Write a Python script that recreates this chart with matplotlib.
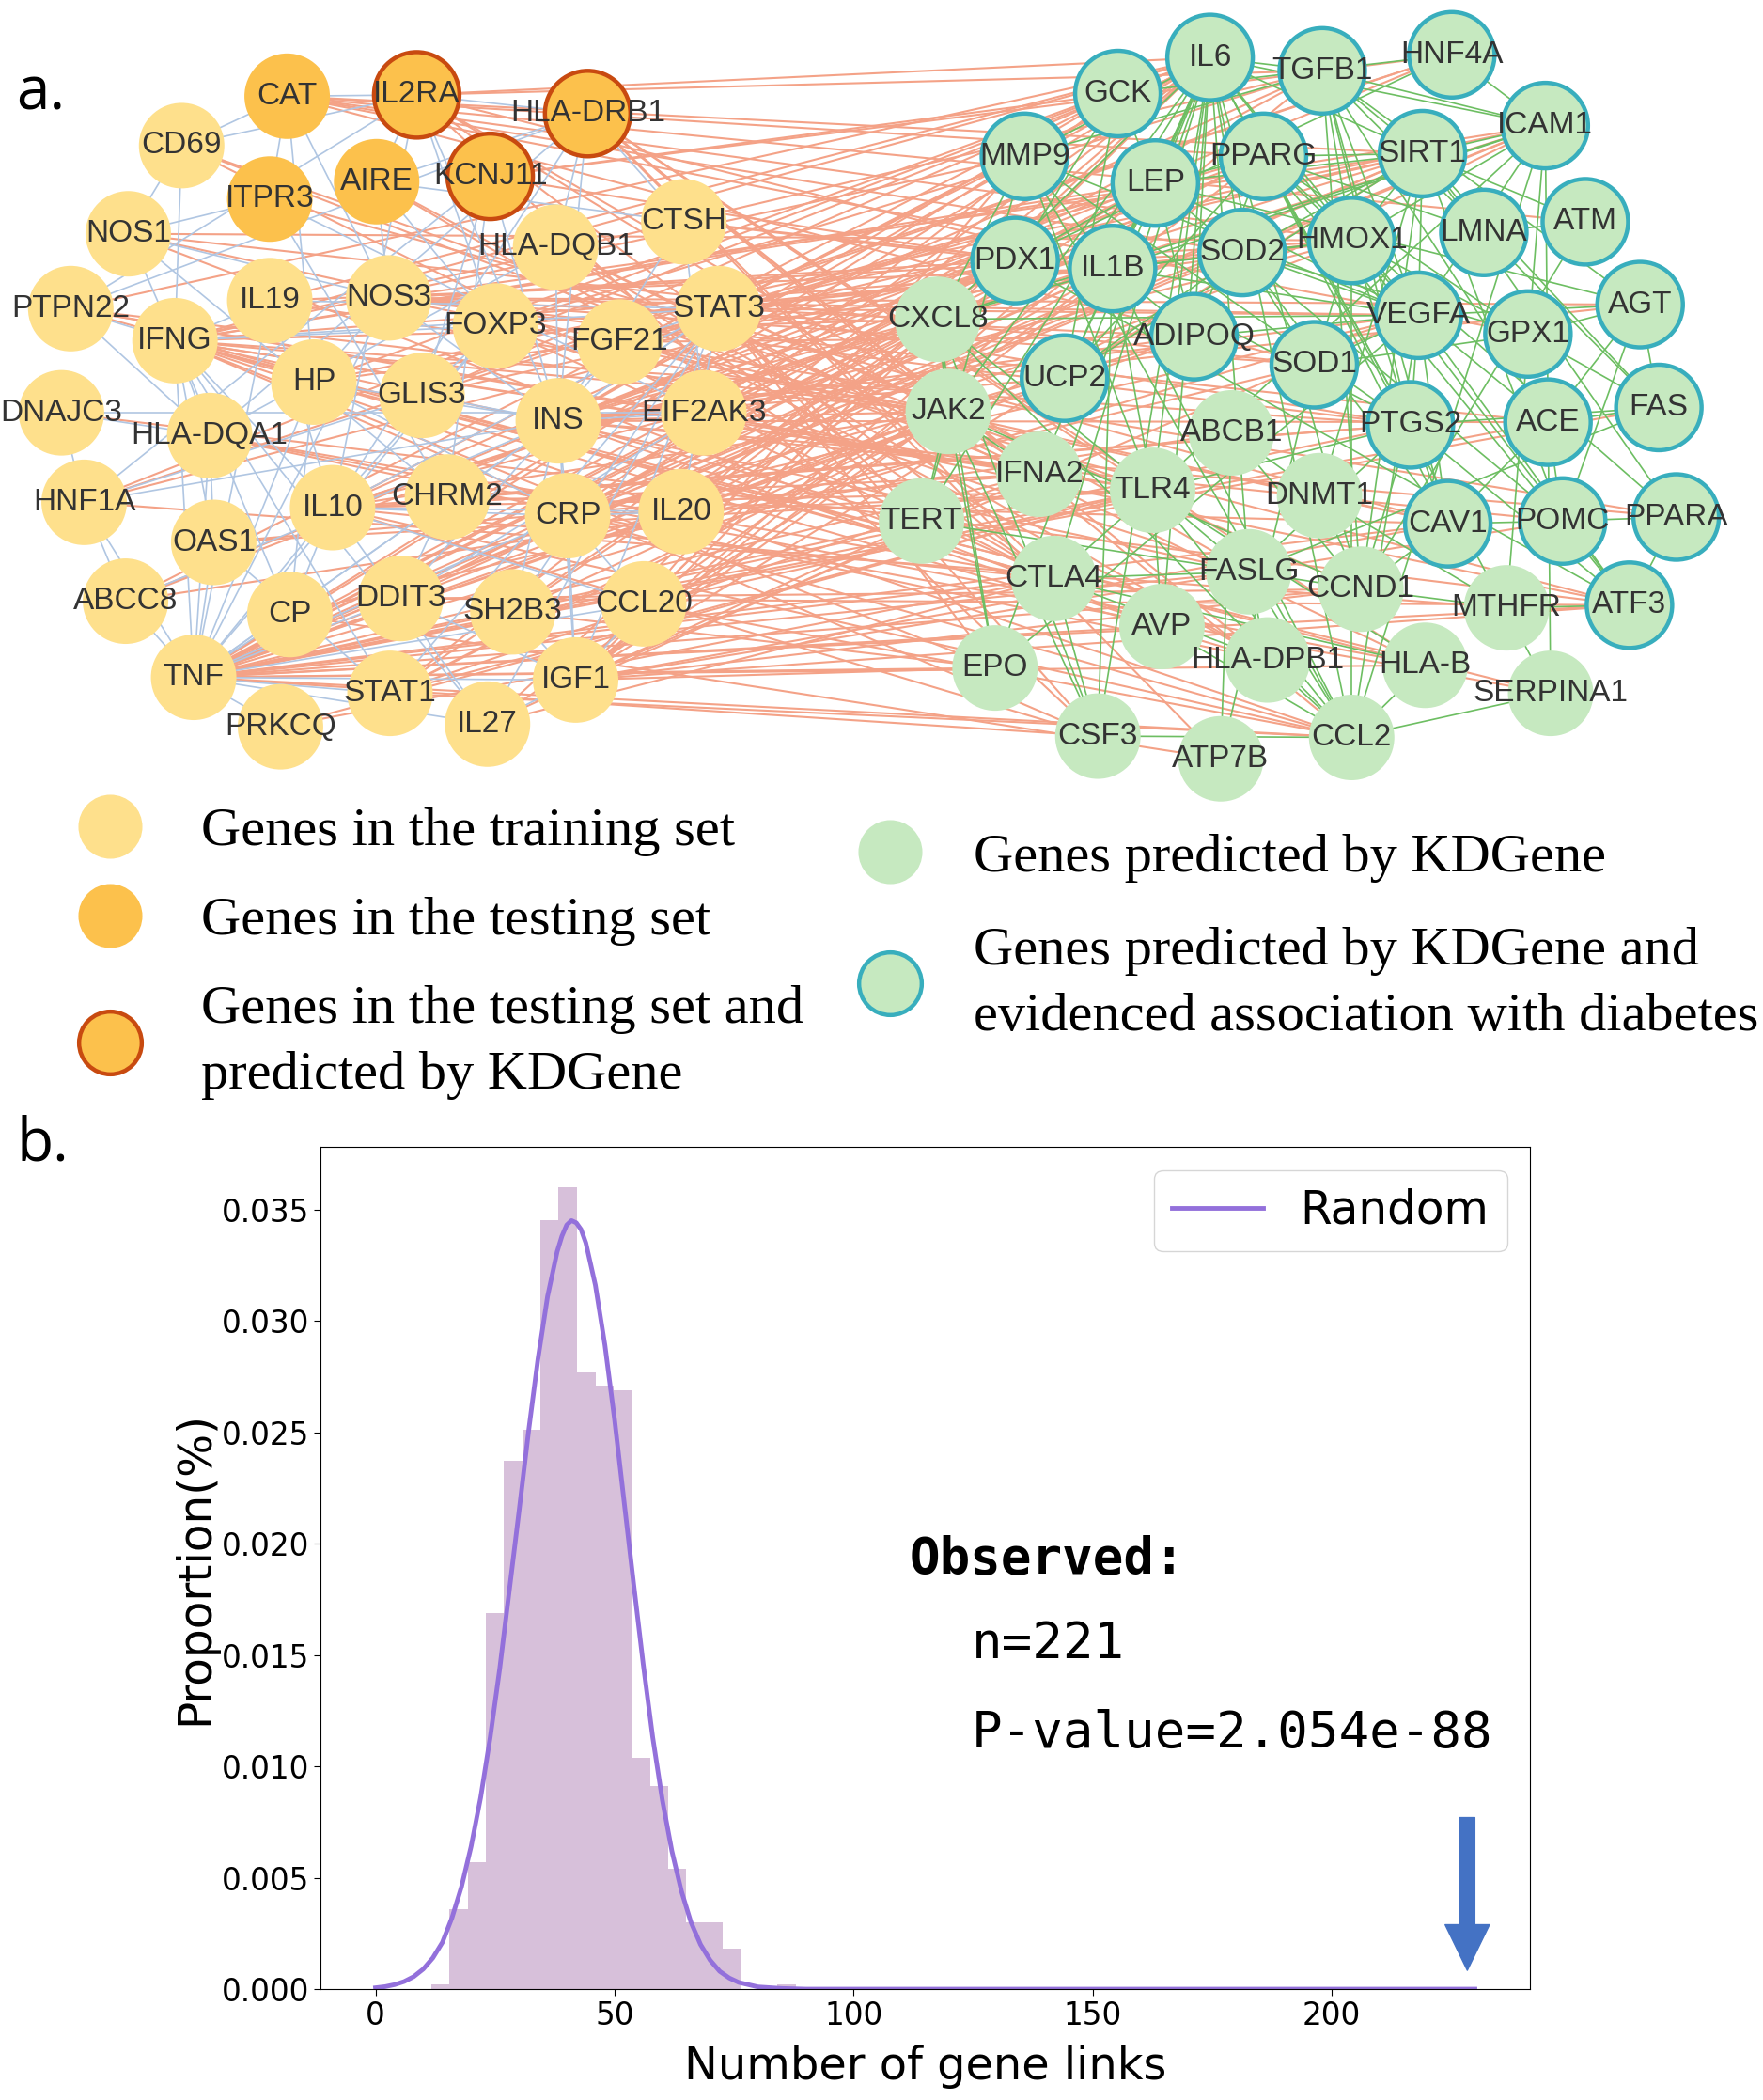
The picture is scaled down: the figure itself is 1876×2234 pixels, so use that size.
import numpy as np
import matplotlib
matplotlib.use("Agg")
import matplotlib.pyplot as plt
from matplotlib.collections import LineCollection
from matplotlib.patches import Circle
from matplotlib.lines import Line2D

# ---------------- panel a: gene network ----------------
# node centres (px of a 1320 px wide view)
left_genes = ["CAT", "IL2RA", "HLA-DRB1", "CD69", "ITPR3", "AIRE", "KCNJ11", "NOS1", "HLA-DQB1", "CTSH",
              "PTPN22", "IL19", "NOS3", "IFNG", "FOXP3", "FGF21", "STAT3", "HP", "GLIS3", "INS",
              "EIF2AK3", "DNAJC3", "HLA-DQA1", "HNF1A", "IL10", "CHRM2", "CRP", "IL20", "OAS1", "ABCC8",
              "CP", "DDIT3", "SH2B3", "CCL20", "TNF", "STAT1", "IGF1", "PRKCQ", "IL27"]
left_x = [215, 312, 440, 136, 202, 282, 367, 96, 416, 512, 53, 202, 291, 131, 371, 464, 538, 235, 316, 418,
          527, 46, 157, 63, 249, 335, 425, 510, 160, 94, 217, 300, 384, 482, 145, 292, 431, 210, 365]
left_y = [72, 71, 85, 109, 149, 136, 132, 175, 185, 166, 231, 225, 223, 255, 244, 256, 231, 286, 296, 315,
          309, 309, 326, 376, 380, 372, 386, 383, 406, 450, 460, 448, 458, 452, 507, 519, 509, 544, 542]

right_genes = ["IL6", "TGFB1", "HNF4A", "GCK", "ICAM1", "MMP9", "LEP", "PPARG", "SIRT1", "ATM",
               "HMOX1", "LMNA", "PDX1", "IL1B", "SOD2", "AGT", "CXCL8", "ADIPOQ", "VEGFA", "GPX1",
               "SOD1", "UCP2", "JAK2", "FAS", "ACE", "PTGS2", "ABCB1", "IFNA2", "TLR4", "DNMT1",
               "TERT", "CAV1", "POMC", "PPARA", "CTLA4", "FASLG", "CCND1", "MTHFR", "ATF3", "AVP",
               "EPO", "HLA-DPB1", "HLA-B", "SERPINA1", "CSF3", "ATP7B", "CCL2"]
right_x = [906, 990, 1087, 837, 1157, 767, 865, 946, 1065, 1187, 1012, 1111, 760, 833, 930, 1228, 702, 894,
           1062, 1144, 984, 797, 710, 1242, 1159, 1056, 922, 778, 863, 988, 690, 1084, 1170, 1255, 789, 935,
           1019, 1128, 1220, 870, 745, 949, 1067, 1161, 822, 914, 1012]
right_y = [43, 53, 41, 70, 94, 117, 137, 117, 115, 166, 180, 174, 195, 201, 189, 228, 239, 252, 236, 250,
           273, 283, 308, 305, 316, 318, 324, 355, 367, 371, 390, 392, 390, 387, 433, 428, 441, 455, 453, 469,
           500, 494, 498, 519, 551, 568, 552]

testing_genes = ["CAT", "ITPR3", "AIRE", "IL2RA", "HLA-DRB1", "KCNJ11"]
testing_predicted = ["IL2RA", "HLA-DRB1", "KCNJ11"]
evidenced_genes = ["IL6", "TGFB1", "HNF4A", "GCK", "ICAM1", "MMP9", "LEP", "PPARG", "SIRT1", "ATM",
                   "HMOX1", "LMNA", "PDX1", "IL1B", "SOD2", "AGT", "ADIPOQ", "VEGFA", "GPX1", "SOD1",
                   "UCP2", "FAS", "ACE", "PTGS2", "CAV1", "POMC", "PPARA", "ATF3"]

# links between known genes (blue)
left_links = {
    "TNF": "IFNG IL10 CRP HP OAS1 CP STAT1 IL27 PRKCQ ABCC8 HNF1A HLA-DQA1 IL19 INS IGF1 CCL20 DDIT3 FOXP3 STAT3 NOS3",
    "IFNG": "IL10 STAT1 STAT3 FOXP3 IL27 CD69 PTPN22 HLA-DQA1 OAS1 NOS1 IL19 CP",
    "INS": "IGF1 GLIS3 KCNJ11 ABCC8 HNF1A FGF21 EIF2AK3 DDIT3 CRP HLA-DQB1 HLA-DRB1 IL2RA CTSH NOS3 STAT3 HP SH2B3",
    "IL10": "STAT3 FOXP3 IL2RA IL20 IL19 CRP CCL20 IL27 HLA-DRB1 CP",
    "STAT3": "IL27 IL20 IL19 FGF21 IGF1 SH2B3 STAT1",
    "HLA-DRB1": "HLA-DQB1 HLA-DQA1 IL2RA AIRE CTSH PTPN22",
    "IL2RA": "FOXP3 CD69 PTPN22 AIRE CAT",
    "CAT": "ITPR3 NOS3 HP CD69",
    "NOS1": "NOS3 CD69 ITPR3 CHRM2",
    "HLA-DQA1": "HLA-DQB1 PTPN22 OAS1 DNAJC3",
    "HNF1A": "ABCC8 KCNJ11 GLIS3 DNAJC3",
    "CRP": "HP IGF1 CCL20 IL20",
    "IGF1": "SH2B3 DDIT3 IL27 CCL20",
    "EIF2AK3": "DDIT3 DNAJC3 ITPR3 CTSH",
    "GLIS3": "KCNJ11 FOXP3",
    "CHRM2": "ITPR3 KCNJ11 DDIT3",
    "AIRE": "FOXP3 CTSH",
    "NOS3": "HP AIRE",
    "OAS1": "STAT1",
    "CP": "HP",
}

# links between predicted genes (green)
right_links = {
    "IL6": "TGFB1 ICAM1 MMP9 LEP PPARG SIRT1 HMOX1 IL1B SOD2 CXCL8 ADIPOQ VEGFA UCP2 JAK2 PTGS2 TLR4 CTLA4 FASLG CCND1 CSF3 CCL2 EPO SERPINA1 TERT IFNA2 AVP",
    "TGFB1": "ICAM1 MMP9 VEGFA SIRT1 HMOX1 CCND1 CAV1 PTGS2 FAS ACE AGT",
    "VEGFA": "HMOX1 SIRT1 LEP ADIPOQ PTGS2 CAV1 ICAM1 MMP9 CXCL8 IL1B SOD1 SOD2 EPO CCL2 AGT ACE ATF3",
    "IL1B": "MMP9 CXCL8 ICAM1 PTGS2 TLR4 CCL2 CSF3 HMOX1 LEP SOD2 ADIPOQ",
    "LEP": "ADIPOQ PPARG SIRT1 UCP2 POMC GCK PDX1 AGT",
    "PPARG": "ADIPOQ SIRT1 UCP2 PPARA HMOX1 LMNA CAV1 PTGS2 GPX1 ATF3",
    "SIRT1": "HMOX1 SOD2 PPARA UCP2 DNMT1 CCND1 ATM LMNA FAS ICAM1 POMC",
    "HMOX1": "SOD1 SOD2 GPX1 ATF3 PTGS2 ICAM1 CCL2",
    "ICAM1": "CCL2 CXCL8 TLR4 SERPINA1 MTHFR",
    "MMP9": "CXCL8 PTGS2 TLR4 CCL2 TERT",
    "SOD2": "SOD1 GPX1 UCP2 CAV1",
    "SOD1": "GPX1 ATP7B",
    "GCK": "PDX1 HNF4A UCP2",
    "PDX1": "HNF4A ATF3",
    "CXCL8": "CCL2 TLR4 CSF3 JAK2 EPO",
    "JAK2": "EPO CSF3 IFNA2 CCND1 TERT",
    "PTGS2": "TLR4 CAV1 CCND1 FASLG ATF3 FAS",
    "TLR4": "CCL2 CTLA4 FASLG HLA-B AVP",
    "CTLA4": "FASLG HLA-B HLA-DPB1 CSF3",
    "FASLG": "FAS CCL2 HLA-DPB1",
    "CCND1": "DNMT1 ATM TERT CAV1 MTHFR",
    "ACE": "AGT CAV1 POMC FAS",
    "AGT": "FAS POMC",
    "PPARA": "POMC ATF3",
    "HNF4A": "ICAM1",
    "ABCB1": "CCND1 ATP7B DNMT1",
    "CCL2": "CSF3 HLA-B SERPINA1 HLA-DPB1 AVP",
    "MTHFR": "DNMT1 ATF3",
    "ATM": "LMNA",
    "GPX1": "FAS AGT",
    "CAV1": "POMC",
}

# links from known genes to predicted genes (salmon)
cross_links = {
    "TNF": "IL6 TGFB1 ICAM1 MMP9 LEP PPARG SIRT1 HMOX1 PDX1 IL1B SOD2 CXCL8 ADIPOQ VEGFA UCP2 JAK2 PTGS2 ACE CAV1 IFNA2 TLR4 TERT CTLA4 FASLG CCND1 AVP EPO CSF3 CCL2 FAS ATF3 HLA-B",
    "IFNG": "IL6 TGFB1 ICAM1 MMP9 LEP IL1B CXCL8 JAK2 IFNA2 TLR4 CTLA4 FASLG CSF3 CCL2 PTGS2 HLA-DPB1 HLA-B EPO",
    "INS": "IL6 GCK LEP PPARG SIRT1 PDX1 IL1B ADIPOQ VEGFA UCP2 JAK2 POMC AGT ACE PPARA TERT AVP",
    "IL10": "IL6 TGFB1 ICAM1 IL1B CXCL8 JAK2 IFNA2 TLR4 CTLA4 CSF3 CCL2 HMOX1 PTGS2",
    "CRP": "IL6 ICAM1 LEP IL1B CXCL8 ADIPOQ VEGFA TLR4 CCL2 SERPINA1",
    "IGF1": "IL6 TGFB1 MMP9 LEP PPARG SIRT1 VEGFA JAK2 CCND1 TERT EPO CAV1 POMC ATF3",
    "STAT3": "IL6 LEP JAK2 VEGFA CCND1 IL1B TERT SIRT1 HMOX1 CXCL8 MMP9 EPO CSF3 PTGS2",
    "STAT1": "IFNA2 JAK2 IL6 CXCL8 TLR4 CCL2 ICAM1",
    "FOXP3": "CTLA4 TGFB1 IL6 IL1B FASLG",
    "IL2RA": "CTLA4 IL6 TGFB1 IL1B IFNA2 FASLG CSF3",
    "HLA-DRB1": "CTLA4 HLA-DPB1 HLA-B IFNA2 TLR4 ATP7B CCL2",
    "HLA-DQB1": "HLA-DPB1 HLA-B CTLA4 IFNA2",
    "HLA-DQA1": "HLA-DPB1 HLA-B CTLA4",
    "CAT": "SOD1 SOD2 GPX1 HMOX1 SIRT1 ATM PPARG",
    "NOS3": "VEGFA CAV1 SOD1 SOD2 HMOX1 ACE AGT SIRT1 ADIPOQ PTGS2",
    "NOS1": "SOD1 CAV1 AVP HMOX1",
    "HP": "HMOX1 IL6 ICAM1 SERPINA1",
    "CCL20": "CXCL8 CCL2 IL6 IL1B TLR4",
    "IL20": "IL6 JAK2 IL1B CXCL8",
    "IL19": "IL6 JAK2 IL1B",
    "IL27": "IL6 JAK2 IFNA2 CTLA4",
    "DDIT3": "ATF3 SIRT1 PPARG CCND1",
    "EIF2AK3": "ATF3 PDX1 GCK",
    "KCNJ11": "GCK PDX1 HNF4A",
    "ABCC8": "GCK PDX1 HNF4A ABCB1",
    "HNF1A": "HNF4A GCK PDX1 MTHFR",
    "GLIS3": "PDX1 GCK HNF4A",
    "FGF21": "PPARA PPARG SIRT1 ADIPOQ LEP ATF3",
    "CTSH": "IL1B PDX1",
    "PTPN22": "CTLA4 IL6 JAK2 TLR4 IFNA2",
    "SH2B3": "JAK2 LEP EPO",
    "CD69": "CTLA4 TLR4 IFNA2",
    "AIRE": "CTLA4 HLA-DPB1",
    "ITPR3": "CAV1",
    "CHRM2": "CAV1 PTGS2",
    "OAS1": "IFNA2 TLR4",
    "CP": "SOD1 ATP7B",
    "DNAJC3": "ATF3",
    "PRKCQ": "CTLA4 TLR4",
}

# ---------------- panel b: histogram of random link counts ----------------
bin_edges = [11.7, 15.5, 19.3, 23.1, 26.9, 30.7, 34.5, 38.3, 42.2, 46.0, 49.8,
             53.6, 57.4, 61.2, 65.0, 68.8, 72.6, 76.4, 80.3, 84.1, 87.9]
bin_heights = [0.0002, 0.0036, 0.0057, 0.0169, 0.0237, 0.0251, 0.0345, 0.0360, 0.0277, 0.0271,
               0.0269, 0.0104, 0.0091, 0.0054, 0.0030, 0.0030, 0.0018, 0.0, 0.0, 0.0002]
curve_x = [0, 2, 4, 6, 8, 10, 12, 14, 16, 18, 20, 22, 24, 26, 28, 30, 32, 34, 36, 38, 39, 40, 41,
           42, 43, 44, 46, 48, 50, 52, 54, 56, 58, 60, 62, 64, 66, 68, 70, 72, 74, 76, 80, 85, 90,
           100, 150, 200, 230]
curve_y = [0.00006, 0.00011, 0.0002, 0.00034, 0.00056, 0.0009, 0.0014, 0.0021, 0.0032, 0.0046,
           0.0064, 0.0086, 0.0113, 0.0144, 0.0179, 0.0214, 0.0250, 0.0283, 0.0311, 0.0331, 0.0338,
           0.0343, 0.0345, 0.0344, 0.0341, 0.0335, 0.0316, 0.0289, 0.0256, 0.0219, 0.0182, 0.0146,
           0.0113, 0.0085, 0.0062, 0.0044, 0.0030, 0.0020, 0.0013, 0.0008, 0.0005, 0.0003, 0.0001,
           0.00003, 0.0, 0.0, 0.0, 0.0, 0.0]
observed_n = 221
p_value = "2.054e-88"
arrow_x = 228.4
arrow_y0, arrow_y1 = 0.0077, 0.00084

# ---------------- drawing ----------------
K = 1876 / 1320.0
fig = plt.figure(figsize=(18.76, 22.34), dpi=100)
ax0 = fig.add_axes([0, 0, 1, 1])
ax0.set_xlim(0, 1876 / K)
ax0.set_ylim(2234 / K, 0)
ax0.axis("off")

pos = dict(zip(left_genes, zip(left_x, left_y)))
pos.update(zip(right_genes, zip(right_x, right_y)))


def segments(links):
    segs = []
    for a, targets in links.items():
        for b in targets.split():
            segs.append([pos[a], pos[b]])
    return segs


ax0.add_collection(LineCollection(segments(cross_links), colors="#F4A287", linewidths=1.5, zorder=1))
ax0.add_collection(LineCollection(segments(left_links), colors="#B0C6E2", linewidths=1.2, zorder=2))
ax0.add_collection(LineCollection(segments(right_links), colors="#6DBE62", linewidths=1.2, zorder=2))

R = 32
YEL, ORA, RED = "#FEE08C", "#FCC14C", "#C84A10"
GRN, TEAL = "#C6E9C0", "#38AEBD"
for g, x, y in zip(left_genes, left_x, left_y):
    fc = ORA if g in testing_genes else YEL
    if g in testing_predicted:
        ax0.add_patch(Circle((x, y), R, fc=fc, ec=RED, lw=3.2, zorder=3))
    else:
        ax0.add_patch(Circle((x, y), R, fc=fc, ec="none", zorder=3))
for g, x, y in zip(right_genes, right_x, right_y):
    if g in evidenced_genes:
        ax0.add_patch(Circle((x, y), R, fc=GRN, ec=TEAL, lw=3.2, zorder=3))
    else:
        ax0.add_patch(Circle((x, y), R, fc=GRN, ec="none", zorder=3))

for g, x, y in zip(left_genes + right_genes, left_x + right_x, left_y + right_y):
    ax0.text(x, y, g, ha="center", va="center", fontsize=24, family="Liberation Sans",
             color="#333333", zorder=4)

ax0.text(12, 70, "a.", ha="left", va="center", fontsize=46, family="Open Sans", color="black")
ax0.text(12, 857, "b.", ha="left", va="center", fontsize=46, family="Open Sans", color="black")

serif = {"family": "Liberation Serif", "size": 42}
h_train = Line2D([], [], ls="none", marker="o", markersize=48, mfc=YEL, mec=YEL)
h_test = Line2D([], [], ls="none", marker="o", markersize=48, mfc=ORA, mec=ORA)
h_testp = Line2D([], [], ls="none", marker="o", markersize=48, mfc=ORA, mec=RED, mew=3.2)
h_pred = Line2D([], [], ls="none", marker="o", markersize=48, mfc=GRN, mec=GRN)
h_evid = Line2D([], [], ls="none", marker="o", markersize=48, mfc=GRN, mec=TEAL, mew=3.2)

leg1 = ax0.legend([h_train, h_test, h_testp],
                  ["Genes in the training set", "Genes in the testing set",
                   "Genes in the testing set and\npredicted by KDGene"],
                  loc="upper left", bbox_to_anchor=(0.0466, 0.6157), frameon=False, prop=serif,
                  handlelength=1.0, handletextpad=1.17, labelspacing=0.72, borderpad=0, borderaxespad=0)
for t in leg1.get_texts():
    t.set_linespacing(1.45)
ax0.add_artist(leg1)
leg2 = ax0.legend([h_pred, h_evid],
                  ["Genes predicted by KDGene",
                   "Genes predicted by KDGene and\nevidenced association with diabetes"],
                  loc="upper left", bbox_to_anchor=(0.489, 0.6034), frameon=False, prop=serif,
                  handlelength=1.0, handletextpad=1.03, labelspacing=0.8, borderpad=0, borderaxespad=0)
for t in leg2.get_texts():
    t.set_linespacing(1.45)

# panel b
ax = fig.add_axes([0.1818, 0.0528, 0.686, 0.401])
ax.stairs(bin_heights, bin_edges, fill=True, color="#D7C0DA", lw=0)
ax.plot(curve_x, curve_y, color="#9370DB", lw=3.5, label="Random")
ax.annotate("", xy=(arrow_x, arrow_y1), xytext=(arrow_x, arrow_y0),
            arrowprops=dict(arrowstyle="simple,head_length=35,head_width=34,tail_width=11.5",
                            mutation_scale=1, color="#4472C4", shrinkA=0, shrinkB=0))
ax.text(111.6, 0.0193, "Observed:", family="DejaVu Sans Mono", weight="bold", fontsize=39,
        ha="left", va="center")
ax.text(124.7, 0.0155, "n=%d" % observed_n, family="DejaVu Sans Mono", fontsize=39,
        ha="left", va="center")
ax.text(124.7, 0.0115, "P-value=" + p_value, family="DejaVu Sans Mono", fontsize=39,
        ha="left", va="center")

ax.set_xlim(-11.5, 241.5)
ax.set_ylim(0, 0.0378)
ax.set_xticks([0, 50, 100, 150, 200])
ax.set_yticks([0, 0.005, 0.010, 0.015, 0.020, 0.025, 0.030, 0.035])
ax.yaxis.set_major_formatter(matplotlib.ticker.FormatStrFormatter("%.3f"))
ax.tick_params(labelsize=23.5, length=5)
ax.set_xlabel("Number of gene links", fontsize=34.5)
ax.set_ylabel("Proportion(%)", fontsize=35)
ax.yaxis.set_label_coords(-0.085, 0.5)
ax.xaxis.set_label_coords(0.5, -0.066)
ax.legend(loc="upper right", fontsize=35, handlelength=2.0)

fig.savefig("out.png", dpi=100)
